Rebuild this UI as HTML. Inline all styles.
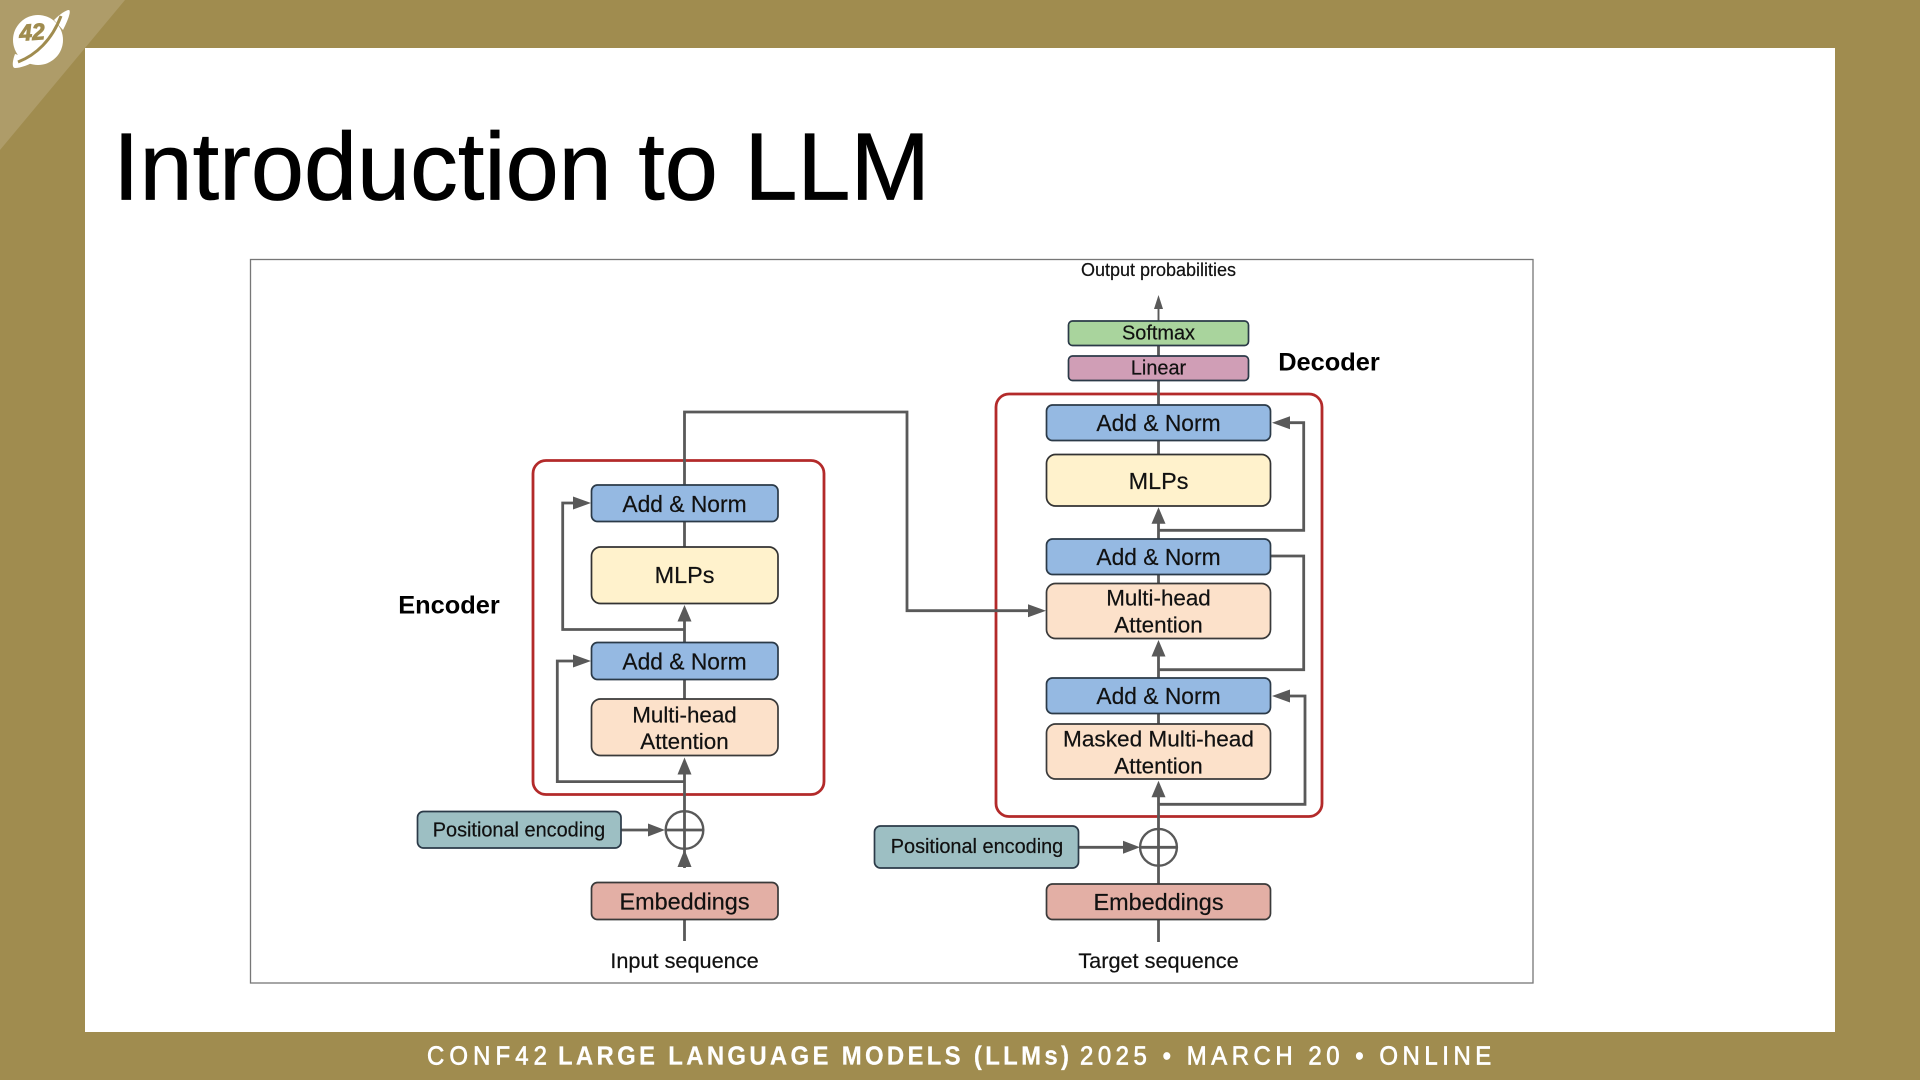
<!DOCTYPE html>
<html><head><meta charset="utf-8"><title>Introduction to LLM</title>
<style>
html,body{margin:0;padding:0;width:1920px;height:1080px;overflow:hidden;background:#a08c4f}
svg{display:block}
text{font-family:"Liberation Sans",sans-serif;fill:#111;text-anchor:middle;dominant-baseline:central;stroke:#111;stroke-width:.2}
.l{fill:none;stroke:#595959;stroke-width:2.8}
.a{fill:#595959;stroke:none}
.b{stroke:#2b3a48;stroke-width:1.7}
.n{fill:#95b9e2}.m{fill:#fff2cc;stroke:#333}.h{fill:#fce1ca;stroke:#3a3a3a}.e{fill:#e3afa5;stroke:#3a3a3a}.p{fill:#9dbfc3}
.f{font-weight:700;fill:#fff;stroke:#fff;stroke-width:.2;text-anchor:start;dominant-baseline:auto;font-size:26px}
.g{font-weight:400;fill:#fff;stroke:#fff;stroke-width:.7;text-anchor:start;dominant-baseline:auto;font-size:26px}
</style></head><body>
<svg width="1920" height="1080" viewBox="0 0 1920 1080" xmlns="http://www.w3.org/2000/svg">
<rect width="1920" height="1080" fill="#a08c4f"/>
<polygon points="0,0 125,0 0,150" fill="#ae9c69"/>
<rect x="85" y="48" width="1750" height="984" fill="#fff"/>

<!-- logo -->
<circle cx="38" cy="40" r="25" fill="#fff"/>
<path d="M54 20 C60 14 66 10 69 10 C71 11 69 18 63 30 Z" fill="#fff"/>
<path d="M15 54 C12 62 12 68 15 68 C20 68 30 65 36 60 Z" fill="#fff"/>
<path d="M61 16 C52 40 36 55 18 62" fill="none" stroke="#a08c4f" stroke-width="3"/>
<text x="32" y="32" transform="rotate(-4 32 32)" style="font-size:23px;font-weight:700;font-style:italic;fill:#a08c4f;stroke:#a08c4f;stroke-width:.9">42</text>

<!-- title -->
<text x="113" y="199.5" textLength="817" lengthAdjust="spacingAndGlyphs" style="font-size:96px;fill:#000;stroke:#000;stroke-width:.7;text-anchor:start;dominant-baseline:auto">Introduction to LLM</text>

<!-- frame -->
<rect x="250.5" y="259.5" width="1282.5" height="723.5" fill="#fff" stroke="#777" stroke-width="1.3"/>

<!-- red boxes -->
<rect x="533" y="460.5" width="291" height="334" rx="13" fill="none" stroke="#b32a2a" stroke-width="2.8"/>
<rect x="996" y="394" width="326" height="422.5" rx="13" fill="none" stroke="#b32a2a" stroke-width="2.8"/>

<!-- connectors encoder -->
<path class="l" d="M684.5 941V882M684.5 868V848M684.5 848V772M684.5 699V680M684.5 642V618M684.5 603V547M684.5 547V521M684.5 485V412H907V610.7H1030"/>
<path class="l" d="M684.5 629.5H562.7V503H576"/>
<path class="l" d="M684.5 781.6H557.3V661H576"/>
<path class="l" d="M621 830H652"/>
<polygon class="a" points="591,503 573,496.5 573,509.5"/>
<polygon class="a" points="591,661 573,654.5 573,667.5"/>
<polygon class="a" points="684.5,605 677.5,621.5 691.5,621.5"/>
<polygon class="a" points="684.5,757.5 677.5,774.5 691.5,774.5"/>
<polygon class="a" points="684.5,849.5 677.5,867 691.5,867"/>
<polygon class="a" points="665,830 648,823.5 648,836.5"/>
<circle cx="684.5" cy="830" r="18.8" fill="none" stroke="#595959" stroke-width="2.4"/>
<path class="l" d="M665.7 830H703.3"/>
<polygon class="a" points="1046,610.7 1028,604.2 1028,617.2"/>

<!-- connectors decoder -->
<path d="M1158.5 321V306" fill="none" stroke="#595959" stroke-width="1.9"/>
<polygon class="a" points="1158.5,295 1154,309 1163,309"/>
<path class="l" d="M1158.5 346V356M1158.5 381V405M1158.5 440V455M1158.5 521V539M1158.5 574V584M1158.5 654V678M1158.5 713V724M1158.5 795V884M1158.5 919V942"/>
<path class="l" d="M1158.5 530.3H1303.7V422.7H1288"/>
<path class="l" d="M1271 556H1303.7V669.7H1158.5"/>
<path class="l" d="M1158.5 804.3H1305V696H1288"/>
<path class="l" d="M1079 847.3H1127"/>
<polygon class="a" points="1272,422.7 1290,416.2 1290,429.2"/>
<polygon class="a" points="1272,696 1290,689.5 1290,702.5"/>
<polygon class="a" points="1158.5,507.3 1151.5,523.8 1165.5,523.8"/>
<polygon class="a" points="1158.5,640 1151.5,656.5 1165.5,656.5"/>
<polygon class="a" points="1158.5,780.7 1151.5,797.2 1165.5,797.2"/>
<polygon class="a" points="1140,847.3 1123,840.8 1123,853.8"/>
<circle cx="1158.5" cy="847.3" r="18.4" fill="none" stroke="#595959" stroke-width="2.4"/>
<path class="l" d="M1140.1 847.3H1176.9"/>

<!-- encoder boxes -->
<rect class="b n" x="591.5" y="485" width="186.5" height="36.5" rx="6"/>
<rect class="b m" x="591.5" y="547" width="186.5" height="56.5" rx="9"/>
<rect class="b n" x="591.5" y="642.5" width="186.5" height="37" rx="6"/>
<rect class="b h" x="591.5" y="699" width="186.5" height="56.5" rx="9"/>
<rect class="b p" x="417.5" y="811.5" width="203.5" height="36.5" rx="6"/>
<rect class="b e" x="591.5" y="882.5" width="186.5" height="37" rx="6"/>
<!-- decoder boxes -->
<rect class="b" x="1068.5" y="321" width="180" height="24.5" rx="4" fill="#a9d49d"/>
<rect class="b" x="1068.5" y="356" width="180" height="24.5" rx="4" fill="#d09eb6"/>
<rect class="b n" x="1046.5" y="405" width="224" height="35.5" rx="6"/>
<rect class="b m" x="1046.5" y="454.5" width="224" height="51.5" rx="9"/>
<rect class="b n" x="1046.5" y="539" width="224" height="35.5" rx="6"/>
<rect class="b h" x="1046.5" y="583.5" width="224" height="55" rx="9"/>
<rect class="b n" x="1046.5" y="678" width="224" height="35.5" rx="6"/>
<rect class="b h" x="1046.5" y="724" width="224" height="55" rx="9"/>
<rect class="b p" x="874.5" y="826" width="204" height="42" rx="6"/>
<rect class="b e" x="1046.5" y="884" width="224" height="35.5" rx="6"/>

<!-- encoder text -->
<text x="684.5" y="504" font-size="22.8">Add &amp; Norm</text>
<text x="684.5" y="575" font-size="23.4">MLPs</text>
<text x="684.5" y="661.5" font-size="22.8">Add &amp; Norm</text>
<text x="684.5" y="715" font-size="22.4">Multi-head</text>
<text x="684.5" y="741.5" font-size="22.4">Attention</text>
<text x="519" y="830.5" font-size="19.9">Positional encoding</text>
<text x="684.5" y="901.5" font-size="23.4">Embeddings</text>
<text x="684.5" y="960.5" font-size="21.7">Input sequence</text>
<text x="449" y="605.5" font-size="25.4" font-weight="700" style="fill:#000;stroke:none">Encoder</text>

<!-- decoder text -->
<text x="1158.5" y="270" font-size="18">Output probabilities</text>
<text x="1158.5" y="333.5" font-size="19.9">Softmax</text>
<text x="1158.5" y="368.5" font-size="19.9">Linear</text>
<text x="1329" y="362.5" font-size="25.4" font-weight="700" style="fill:#000;stroke:none">Decoder</text>
<text x="1158.5" y="423" font-size="22.8">Add &amp; Norm</text>
<text x="1158.5" y="481" font-size="23.4">MLPs</text>
<text x="1158.5" y="557" font-size="22.8">Add &amp; Norm</text>
<text x="1158.5" y="598" font-size="22.4">Multi-head</text>
<text x="1158.5" y="625" font-size="22.4">Attention</text>
<text x="1158.5" y="696" font-size="22.8">Add &amp; Norm</text>
<text x="1158.5" y="739" font-size="22.6">Masked Multi-head</text>
<text x="1158.5" y="766" font-size="22.4">Attention</text>
<text x="977" y="847" font-size="19.9">Positional encoding</text>
<text x="1158.5" y="902" font-size="23.4">Embeddings</text>
<text x="1158.5" y="960.5" font-size="21.7">Target sequence</text>

<!-- footer -->
<g transform="translate(0 1064.5) scale(.92 1)">
<text class="g" x="464.1" y="0" textLength="130.4" lengthAdjust="spacing">CONF42</text>
<text class="f" x="606.5" y="0" textLength="555.4" lengthAdjust="spacing">LARGE LANGUAGE MODELS (LLMs)</text>
<text class="g" x="1173.9" y="0" textLength="447" lengthAdjust="spacing">2025 • MARCH 20 • ONLINE</text>
</g>
</svg>
</body></html>
